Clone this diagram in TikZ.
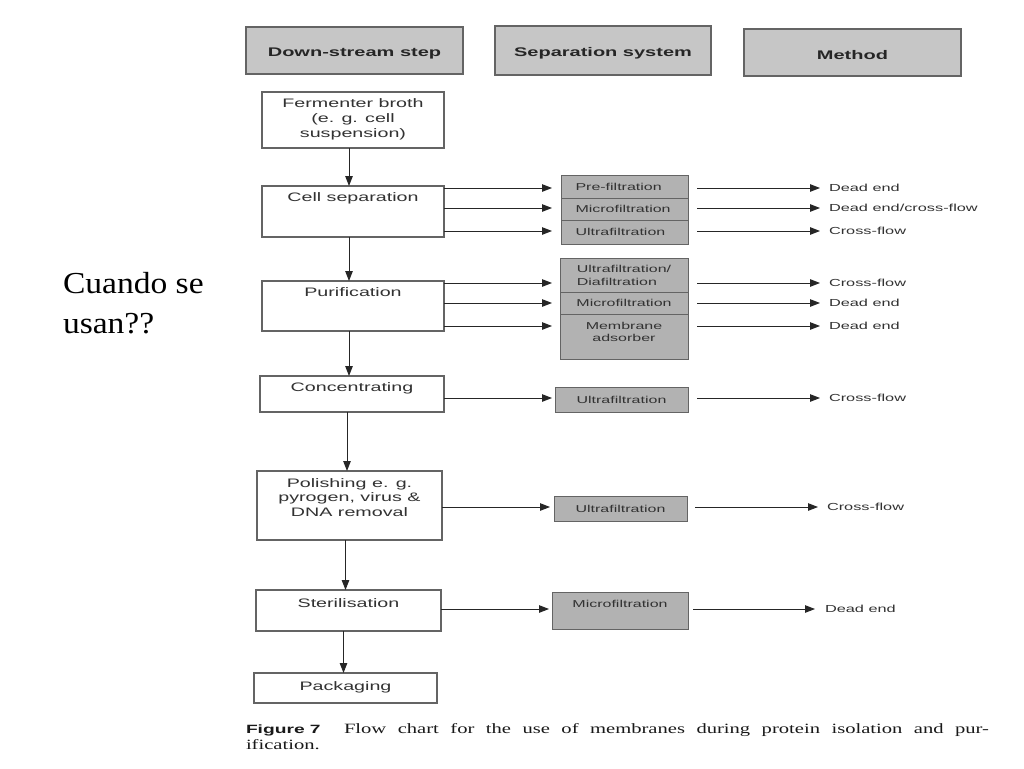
\documentclass[tikz,border=0pt]{standalone}
\usepackage{fontspec}
\usetikzlibrary{arrows.meta,calc}
\newfontfamily\dfont[FakeStretch=1.6]{Liberation Sans}
\newfontfamily\cfont[FakeStretch=1.45]{Liberation Serif}
\newfontfamily\qfont[FakeStretch=1.1]{Liberation Serif}
\definecolor{hdrfill}{RGB}{198,198,198}
\definecolor{sepfill}{RGB}{178,178,178}
\definecolor{edge}{RGB}{100,100,100}
\definecolor{ink}{RGB}{50,50,50}
\begin{document}
\begin{tikzpicture}[x=1pt,y=-1pt,
  every node/.style={inner sep=0pt, outer sep=0pt},
  hdr/.style={draw=edge, line width=1.3pt, fill=hdrfill, anchor=north west,
    font=\dfont\bfseries\fontsize{12.5}{15}\selectfont, text=black!85,
    execute at begin node={\rule{0pt}{15pt}}},
  stepbox/.style={draw=edge, line width=1.1pt, fill=white, anchor=north west},
  steptext/.style={anchor=base, font=\dfont\fontsize{12.3}{15}\selectfont, text=ink},
  seprow/.style={draw=edge, line width=1pt, fill=sepfill, anchor=north west,
    font=\dfont\fontsize{10}{13}\selectfont, text=ink},
  septext/.style={anchor=base, font=\dfont\fontsize{10}{12}\selectfont, text=ink},
  meth/.style={anchor=west, font=\dfont\fontsize{10.2}{13}\selectfont, text=ink},
  arr/.style={draw=black!85, line width=1pt, -{Triangle[length=10pt,width=7.5pt]}},
]
\fill[white] (0,0) rectangle (1024,768);
\useasboundingbox (0,0) rectangle (1024,768);

% headers
\node[hdr, minimum width=217pt, minimum height=47pt] (h1) at (246,27) {Down-stream step};
\node[hdr, minimum width=216pt, minimum height=49pt] (h2) at (495,26) {Separation system};
\node[hdr, minimum width=217pt, minimum height=47pt] (h3) at (744,29) {Method};

% step boxes
\node[stepbox, minimum width=182pt, minimum height=56pt] (ferm) at (262,92) {};
\node[steptext] (tferm) at ($(ferm.north)+(0,15)$) {\begin{tabular}[t]{@{}c@{}}Fermenter broth\\(e. g. cell\\suspension)\end{tabular}};
\node[stepbox, minimum width=182pt, minimum height=51pt] (cellsep) at (262,186) {};
\node[steptext] (tcell) at ($(cellsep.north)+(0,15)$) {Cell separation};
\node[stepbox, minimum width=182pt, minimum height=50pt] (purif) at (262,281) {};
\node[steptext] (tpurif) at ($(purif.north)+(0,15)$) {Purification};
\node[stepbox, minimum width=184pt, minimum height=36pt] (conc) at (260,376) {};
\node[steptext] (tconc) at ($(conc.north)+(0,15)$) {Concentrating};
\node[stepbox, minimum width=185pt, minimum height=69pt] (polish) at (257,471) {};
\node[steptext] (tpolish) at ($(polish.north)+(0,16)$) {\begin{tabular}[t]{@{}c@{}}Polishing e. g.\\[-0.5pt]pyrogen, virus \&\\[-0.5pt]DNA removal\end{tabular}};
\node[stepbox, minimum width=185pt, minimum height=41pt] (steril) at (256,590) {};
\node[steptext] (tsteril) at ($(steril.north)+(0,17)$) {Sterilisation};
\node[stepbox, minimum width=183pt, minimum height=30pt] (pack) at (254,673) {};
\node[steptext] (tpack) at ($(pack.north)+(0,17)$) {Packaging};

% separation system boxes
\node[seprow, minimum width=127pt, minimum height=23pt] (pre) at (561,175) {\makebox[98pt][l]{Pre-filtration}};
\node[seprow, minimum width=127pt, minimum height=22pt] (mf1) at (561,198) {\makebox[98pt][l]{Microfiltration}};
\node[seprow, minimum width=127pt, minimum height=24pt] (uf1) at (561,220) {\makebox[98pt][l]{Ultrafiltration}};

\node[seprow, minimum width=128pt, minimum height=34pt, align=left] (udf) at (560,258) {Ultrafiltration/\\Diafiltration};
\node[seprow, minimum width=128pt, minimum height=22pt] (mf2) at (560,292) {Microfiltration};
\node[seprow, minimum width=128pt, minimum height=45pt] (mad) at (560,314) {};
\node[septext] (tmad) at ($(mad.north)+(0,15)$) {\begin{tabular}[t]{@{}c@{}}Membrane\\adsorber\end{tabular}};

\node[seprow, minimum width=133pt, minimum height=25pt] (uf3) at (555,387) {Ultrafiltration};
\node[seprow, minimum width=133pt, minimum height=25pt] (uf4) at (554,496) {Ultrafiltration};
\node[seprow, minimum width=136pt, minimum height=37pt] (mf5) at (552,592) {};
\node[septext] (tmf5) at ($(mf5.north)+(0,15)$) {Microfiltration};

% method labels
\node[meth] (m1) at (829,188) {Dead end};
\node[meth] (m2) at (829,208) {Dead end/cross-flow};
\node[meth] (m3) at (829,231) {Cross-flow};
\node[meth] (m4) at (829,283) {Cross-flow};
\node[meth] (m5) at (829,303) {Dead end};
\node[meth] (m6) at (829,326) {Dead end};
\node[meth] (m7) at (829,398) {Cross-flow};
\node[meth] (m8) at (827,507) {Cross-flow};
\node[meth] (m9) at (825,609) {Dead end};

% vertical arrows
\draw[arr] ([xshift=-4pt]ferm.south) -- ([xshift=-4pt]ferm.south |- cellsep.north);
\draw[arr] ([xshift=-4pt]cellsep.south) -- ([xshift=-4pt]cellsep.south |- purif.north);
\draw[arr] ([xshift=-4pt]purif.south) -- ([xshift=-4pt]purif.south |- conc.north);
\draw[arr] ([xshift=-5pt]conc.south) -- ([xshift=-5pt]conc.south |- polish.north);
\draw[arr] ([xshift=-4pt]polish.south) -- ([xshift=-4pt]polish.south |- steril.north);
\draw[arr] ([xshift=-5pt]steril.south) -- ([xshift=-5pt]steril.south |- pack.north);

% step -> separation arrows
\draw[arr, shorten >=9pt] (cellsep.east |- m1.west) -- (pre.west |- m1.west);
\draw[arr, shorten >=9pt] (cellsep.east |- m2.west) -- (mf1.west |- m2.west);
\draw[arr, shorten >=9pt] (cellsep.east |- m3.west) -- (uf1.west |- m3.west);
\draw[arr, shorten >=8pt] (purif.east |- m4.west) -- (udf.west |- m4.west);
\draw[arr, shorten >=8pt] (purif.east |- m5.west) -- (mf2.west |- m5.west);
\draw[arr, shorten >=8pt] (purif.east |- m6.west) -- (mad.west |- m6.west);
\draw[arr, shorten >=3pt] (conc.east |- m7.west) -- (uf3.west |- m7.west);
\draw[arr, shorten >=4pt] (polish.east |- m8.west) -- (uf4.west |- m8.west);
\draw[arr, shorten >=3pt] (steril.east |- m9.west) -- (mf5.west |- m9.west);

% separation -> method arrows
\draw[arr, shorten <=9pt, shorten >=9pt] (pre.east |- m1.west) -- (m1.west);
\draw[arr, shorten <=9pt, shorten >=9pt] (mf1.east |- m2.west) -- (m2.west);
\draw[arr, shorten <=9pt, shorten >=9pt] (uf1.east |- m3.west) -- (m3.west);
\draw[arr, shorten <=9pt, shorten >=9pt] (udf.east |- m4.west) -- (m4.west);
\draw[arr, shorten <=9pt, shorten >=9pt] (mf2.east |- m5.west) -- (m5.west);
\draw[arr, shorten <=9pt, shorten >=9pt] (mad.east |- m6.west) -- (m6.west);
\draw[arr, shorten <=9pt, shorten >=9pt] (uf3.east |- m7.west) -- (m7.west);
\draw[arr, shorten <=8pt, shorten >=9pt] (uf4.east |- m8.west) -- (m8.west);
\draw[arr, shorten <=5pt, shorten >=10pt] (mf5.east |- m9.west) -- (m9.west);

% side question
\node[anchor=base west, font=\qfont\fontsize{30.5}{40}\selectfont] (q) at (63,293)
  {\begin{tabular}[t]{@{}l@{}}Cuando se\\usan??\end{tabular}};

% caption
\node[anchor=base west, font=\dfont\bfseries\fontsize{12}{15}\selectfont, text=black!90] (fig) at (246,733) {Figure 7};
\node[anchor=base west, font=\cfont\fontsize{14.2}{16}\selectfont, text=black!90] (cap1) at (344,733)
  {\makebox[645pt][s]{Flow chart for the use of membranes during protein isolation and pur-}};
\node[anchor=base west, font=\cfont\fontsize{14.2}{16}\selectfont, text=black!90] (cap2) at (246,749) {ification.};
\end{tikzpicture}
\end{document}
